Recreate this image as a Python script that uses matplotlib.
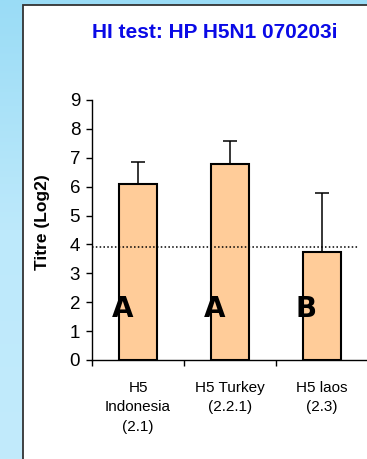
import matplotlib
matplotlib.use("Agg")
import matplotlib.pyplot as plt
import numpy as np
from matplotlib.patches import Rectangle

# data
strains = ["H5\nIndonesia\n(2.1)", "H5 Turkey\n(2.2.1)", "H5 laos\n(2.3)"]
titre = [6.1, 6.8, 3.73]
titre_err = [0.77, 0.77, 2.06]
groups = ["A", "A", "B"]
cutoff = 3.92

plt.rcParams['font.family'] = ['Liberation Sans', 'DejaVu Sans']

fig = plt.figure(figsize=(3.67, 4.59), dpi=100)

# light blue slide background
bg = fig.add_axes([0, 0, 1, 1], zorder=-10)
grad = np.linspace(0, 1, 256).reshape(-1, 1)
cmap = matplotlib.colors.LinearSegmentedColormap.from_list("bg", ["#9adcf6", "#bde9fb", "#c2ebfc"])
bg.imshow(grad, aspect="auto", cmap=cmap, extent=[0, 1, 0, 1])
bg.set_axis_off()
# white panel
fig.patches.append(Rectangle((23 / 367, -0.1), 1.1, 1 - 5 / 459 + 0.1, transform=fig.transFigure,
                             facecolor="white", edgecolor="#333333", linewidth=1.3, zorder=-5))

ax = fig.add_axes([92 / 367, 99 / 459, 276 / 367, 260 / 459])
ax.patch.set_alpha(0)
x = np.arange(len(strains))
ax.bar(x, titre, width=0.42, color="#ffcc99", edgecolor="black", linewidth=1.5, zorder=3)
ax.errorbar(x, titre, yerr=[np.zeros(len(titre)), titre_err], fmt="none", ecolor="black",
            elinewidth=1.1, capsize=5, capthick=1.1, zorder=2)
ax.axhline(cutoff, xmin=0, xmax=0.964, color="black", linestyle=(0, (1, 1.5)), linewidth=1.1, zorder=4)

for xi, g in zip(x, groups):
    ax.text(xi - 0.17, 1.76, g, ha="center", va="center", fontsize=20, fontweight="bold",
            family=["DejaVu Sans"], zorder=5)

ax.set_xlim(-0.5, 2.5)
ax.set_ylim(0, 9)
ax.set_yticks(range(10))
ax.set_xticks([-0.5, 0.5, 1.5], minor=False)
ax.set_xticklabels([])
ax.set_xticks(x, minor=True)
ax.set_xticklabels(strains, minor=True, fontsize=11, linespacing=1.5)
ax.tick_params(axis="x", which="minor", length=0, pad=15)
ax.tick_params(axis="x", which="major", length=4, direction="out", width=1)
ax.tick_params(axis="y", labelsize=13.5, length=4, width=1, pad=4.5)
for s in ["top", "right"]:
    ax.spines[s].set_visible(False)
for s in ["left", "bottom"]:
    ax.spines[s].set_linewidth(1)

ax.set_ylabel("Titre (Log2)", fontsize=12.5, fontweight="bold")
ax.yaxis.set_label_coords(-0.152, 0.53)

fig.text(214.5 / 367, 1 - 33 / 459, "HI test: HP H5N1 070203i", ha="center", va="center",
         fontsize=15, fontweight="bold", color="#0a0ae6")

fig.savefig("out.png", dpi=100)
